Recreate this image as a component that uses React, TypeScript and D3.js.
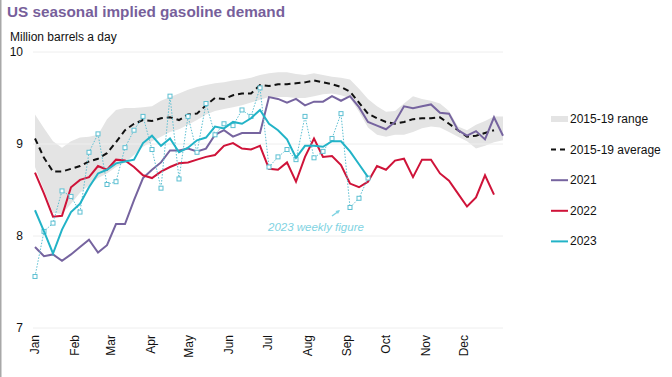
import React from "react";
import * as d3 from "d3";

const months = ["Jan","Feb","Mar","Apr","May","Jun","Jul","Aug","Sep","Oct","Nov","Dec"];
const monthStartDay = [0,31,59,90,120,151,181,212,243,273,304,334];
const yTicks = [7, 8, 9, 10];

const rangeUpper = [9.32,9.17,9.03,8.96,9.03,9.07,9.08,9.10,9.27,9.37,9.39,9.39,9.40,9.41,9.47,9.51,9.55,9.59,9.62,9.64,9.66,9.67,9.69,9.70,9.72,9.75,9.77,9.78,9.78,9.76,9.75,9.77,9.75,9.73,9.72,9.70,9.60,9.49,9.41,9.35,9.36,9.44,9.52,9.49,9.47,9.44,9.36,9.19,9.15,9.21,9.25,9.30,9.30];
const rangeLower = [8.75,8.50,8.25,8.24,8.35,8.47,8.55,8.63,8.68,8.75,8.80,8.88,8.97,9.03,9.08,9.13,9.16,9.21,9.26,9.32,9.36,9.38,9.40,9.42,9.45,9.48,9.51,9.51,9.51,9.50,9.50,9.52,9.54,9.55,9.53,9.50,9.35,9.18,9.10,9.08,9.10,9.10,9.13,9.17,9.19,9.18,9.13,9.08,9.03,8.95,8.98,9.02,9.04];
const avg1519 = [9.06,8.85,8.70,8.70,8.73,8.76,8.81,8.84,8.90,9.02,9.15,9.22,9.26,9.25,9.28,9.29,9.26,9.32,9.33,9.42,9.50,9.49,9.53,9.55,9.55,9.64,9.63,9.65,9.65,9.66,9.67,9.69,9.67,9.65,9.62,9.57,9.45,9.33,9.28,9.24,9.22,9.24,9.27,9.28,9.28,9.29,9.22,9.15,9.08,9.09,9.12,9.15];
const y2021 = [7.88,7.78,7.80,7.73,7.80,7.88,7.96,7.82,7.90,8.13,8.13,8.39,8.63,8.72,8.80,8.93,8.93,8.95,8.92,8.95,9.10,9.15,9.08,9.12,9.12,9.12,9.51,9.49,9.45,9.49,9.42,9.46,9.46,9.52,9.47,9.52,9.40,9.24,9.20,9.16,9.24,9.41,9.39,9.41,9.43,9.34,9.33,9.15,9.09,9.14,9.05,9.29,9.09];
const y2022 = [8.69,8.46,8.21,8.22,8.53,8.61,8.64,8.76,8.72,8.83,8.82,8.75,8.66,8.63,8.70,8.75,8.79,8.80,8.83,8.86,8.88,8.98,9.01,8.95,8.94,8.98,8.73,8.72,8.80,8.59,8.86,9.06,8.86,8.87,8.77,8.57,8.53,8.59,8.76,8.72,8.82,8.84,8.64,8.83,8.83,8.68,8.60,8.46,8.32,8.42,8.66,8.45];
const y2023 = [8.28,8.05,7.81,8.07,8.26,8.35,8.53,8.68,8.72,8.79,8.81,8.83,9.01,9.09,8.98,9.06,8.91,8.96,9.04,9.07,9.19,9.17,9.24,9.22,9.28,9.37,9.22,9.15,9.05,8.85,8.98,8.98,8.97,9.03,9.03,8.92,8.78,8.64];
const weekly2023 = [7.56,8.05,8.14,8.49,8.43,8.26,8.91,9.11,8.56,8.59,8.96,9.15,9.30,8.94,8.52,9.52,8.62,9.30,8.91,9.44,9.10,9.22,9.20,9.37,9.30,9.61,8.75,8.86,8.94,8.83,9.30,8.85,8.92,9.06,9.33,8.31,8.41,8.63];

const C_PURPLE = "#76649f";
const C_RED = "#cf1339";
const C_TEAL = "#22b3c7";
const C_WEEK = "#5cbfd2";
const C_BAND = "#e4e4e4";
const FONT = "'Liberation Sans', Arial, sans-serif";

export default function App() {
  const W = 672, H = 377;
  const x = d3.scaleLinear().domain([0, 52]).range([35, 503]);
  const y = d3.scaleLinear().domain([7, 10]).range([328, 52]);

  const line = d3.line<number>().x((_, i) => x(i)).y((d) => y(d));
  const area = d3.area<number>()
    .x((_, i) => x(i))
    .y0((_, i) => y(rangeLower[i]))
    .y1((d) => y(d));

  const legend = [
    { label: "2015-19 range", type: "band" },
    { label: "2015-19 average", type: "dash" },
    { label: "2021", type: "line", color: C_PURPLE },
    { label: "2022", type: "line", color: C_RED },
    { label: "2023", type: "line", color: C_TEAL },
  ];

  return (
    <svg width={W} height={H} style={{ position: "absolute", left: 0, top: 0, background: "#fff" }} fontFamily={FONT}>
      <rect x={0} y={0} width={W} height={H} fill="#fff" />
      <rect x={0} y={0} width={1.5} height={H} fill="#a8a8a8" />
      <text x={7} y={17} fontSize={15.3} fontWeight="bold" fill="#775f9b">US seasonal implied gasoline demand</text>
      <text x={10} y={41} fontSize={12} fill="#111">Million barrels a day</text>

      <path d={area(rangeUpper) || ""} fill={C_BAND} />

      {yTicks.map((t) => (
        <g key={t}>
          <line x1={33} x2={503} y1={y(t)} y2={y(t)} stroke="#eeeeee" strokeWidth={1} />
          <text x={23} y={y(t) + 4} fontSize={12} textAnchor="end" fill="#111">{t}</text>
        </g>
      ))}

      {months.map((m, i) => {
        const xx = x(monthStartDay[i] / 7);
        return (
          <text key={m} transform={`translate(${xx + 4},335) rotate(-90)`} fontSize={12} textAnchor="end" fill="#111">{m}</text>
        );
      })}

      <path d={line(avg1519) || ""} fill="none" stroke="#111" strokeWidth={2} strokeDasharray="6,4" />
      <path d={line(y2021) || ""} fill="none" stroke={C_PURPLE} strokeWidth={2} />
      <path d={line(y2022) || ""} fill="none" stroke={C_RED} strokeWidth={2} />
      <path d={line(weekly2023) || ""} fill="none" stroke={C_WEEK} strokeWidth={1} strokeDasharray="1.5,1.5" />
      {weekly2023.map((v, i) => (
        <rect key={i} x={x(i) - 2} y={y(v) - 2} width={4} height={4} fill="#fff" stroke={C_WEEK} strokeWidth={1} />
      ))}
      <path d={line(y2023) || ""} fill="none" stroke={C_TEAL} strokeWidth={2} />

      <line x1={332} y1={216} x2={339} y2={211} stroke="#7fd3e2" strokeWidth={1.5} />
      <path d="M340,210 L335.5,211 L338,214 Z" fill="#7fd3e2" />
      <text x={268} y={231} fontSize={11.5} fontStyle="italic" fill="#7fd3e2">2023 weekly figure</text>

      {legend.map((l, i) => {
        const ly = 119 + i * 30.6;
        return (
          <g key={l.label}>
            {l.type === "band" && <rect x={551} y={ly - 3} width={17} height={6} fill={C_BAND} />}
            {l.type === "dash" && <line x1={551} x2={568} y1={ly} y2={ly} stroke="#111" strokeWidth={2} strokeDasharray="5,4" />}
            {l.type === "line" && <line x1={551} x2={568} y1={ly} y2={ly} stroke={l.color} strokeWidth={2} />}
            <text x={570} y={ly + 4} fontSize={12} fill="#111">{l.label}</text>
          </g>
        );
      })}
    </svg>
  );
}
